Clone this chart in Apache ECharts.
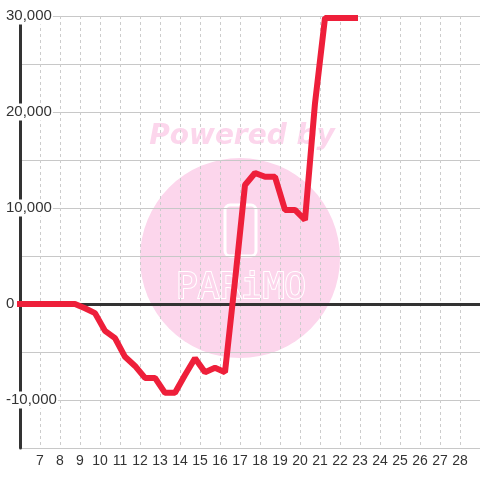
<!DOCTYPE html>
<html>
<head>
<meta charset="utf-8">
<script src="https://cdn.jsdelivr.net/npm/echarts@6/dist/echarts.min.js"></script>
<style>
html, body { margin: 0; padding: 0; background: #fff; }
#main { width: 480px; height: 480px; }
</style>
</head>
<body>
<div id="main"></div>
<script>
var hours = [5.75, 6.25, 6.75, 7.25, 7.75, 8.25, 8.75, 9.25, 9.75, 10.25, 10.75, 11.25, 11.75, 12.25, 12.75, 13.25, 13.75, 14.25, 14.75, 15.25, 15.75, 16.25, 16.75, 17.25, 17.75, 18.25, 18.75, 19.25, 19.75, 20.25, 20.75, 21.25, 21.75, 22.25, 22.9];
var values = [0, 0, 0, 0, 0, 0, 0, -450, -950, -2800, -3550, -5500, -6450, -7700, -7700, -9250, -9250, -7400, -5650, -7100, -6650, -7100, 2400, 12400, 13650, 13250, 13250, 9800, 9800, 8750, 20900, 29800, 29800, 29800, 29800];
var yLabels = [-10000, 0, 10000, 20000, 30000];

var points = [];
for (var i = 0; i < hours.length; i++) {
	points.push([hours[i], values[i]]);
}

var chart = echarts.init(document.getElementById('main'));
var pink = '#fcd6ec';

chart.setOption({
	animation: false,
	grid: { left: 20, right: 0, top: 16, bottom: 32, containLabel: false },
	graphic: [
		{ type: 'circle', z: -10, shape: { cx: 240, cy: 258, r: 100 }, style: { fill: pink } },
		{ type: 'text', z: -10, x: 242, y: 151, style: { text: 'Powered by', fill: pink, font: 'italic bold 28px "DejaVu Sans"', align: 'center', verticalAlign: 'bottom' } },
		{ type: 'rect', z: -9, shape: { x: 225, y: 205, width: 31, height: 51, r: 5 }, style: { fill: 'none', stroke: '#fff', lineWidth: 3 } },
		{ type: 'text', z: -9, x: 241, y: 307, style: { text: 'PARiMO', fill: pink, stroke: '#fff', lineWidth: 2, font: '36px "DejaVu Sans Mono"', align: 'center', verticalAlign: 'bottom' } }
	],
	xAxis: [{
		type: 'value',
		position: 'bottom',
		min: 6,
		max: 29,
		interval: 1,
		axisLine: { show: false, onZero: false },
		axisTick: { show: false },
		axisLabel: { showMinLabel: false, showMaxLabel: false, fontSize: 14, color: '#333', margin: 6, fontFamily: 'Liberation Sans' },
		splitLine: { show: true, lineStyle: { color: '#cccccc', type: [3, 3] } }
	}, {
		type: 'value',
		position: 'bottom',
		min: 6,
		max: 29,
		axisLine: { show: true, onZero: true, onZeroAxisIndex: 0, lineStyle: { color: '#333', width: 3 } },
		axisTick: { show: false },
		axisLabel: { show: false },
		splitLine: { show: false }
	}],
	yAxis: {
		type: 'value',
		min: -15000,
		max: 30000,
		interval: 5000,
		axisLine: { show: true, lineStyle: { color: '#333', width: 3 } },
		axisTick: { show: false },
		axisLabel: {
			fontSize: 15,
			color: '#333',
			fontFamily: 'Liberation Sans',
			align: 'left',
			margin: 14,
			backgroundColor: '#fff',
			padding: [1, 1, 1, 0],
			formatter: function (v) {
				return yLabels.indexOf(v) >= 0 ? echarts.format.addCommas(v) : '';
			}
		},
		splitLine: { lineStyle: { color: '#c8c8c8' } }
	},
	series: [{
		type: 'line',
		xAxisIndex: 0,
		data: points,
		showSymbol: false,
		symbol: 'none',
		lineStyle: { color: '#ee1f3a', width: 6 },
		z: 5
	}]
});
</script>
</body>
</html>
